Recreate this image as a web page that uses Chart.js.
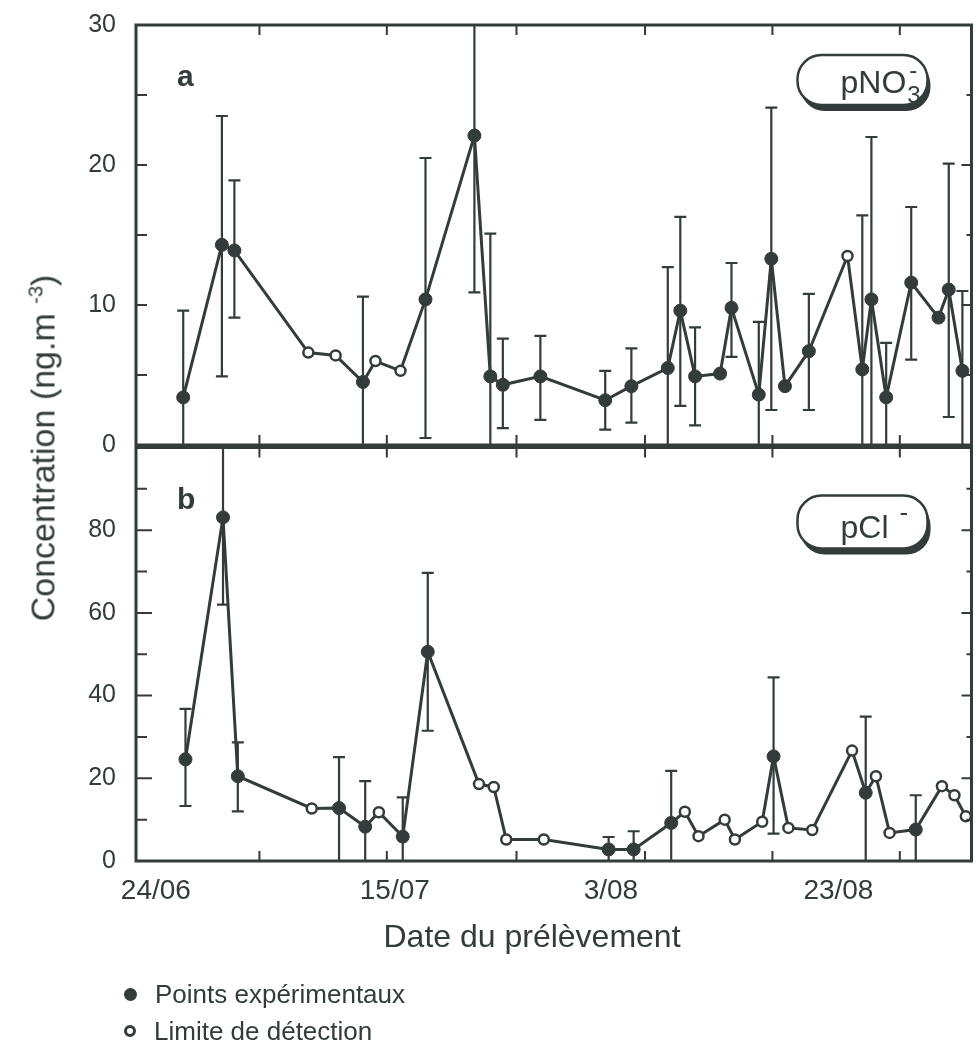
<!DOCTYPE html>
<html>
<head>
<meta charset="utf-8">
<script src="https://cdn.jsdelivr.net/npm/chart.js@4.4.1/dist/chart.umd.min.js"></script>
<style>
  body { margin: 0; background: #fff; }
  #page {
    position: relative; width: 979px; height: 1063px; overflow: hidden;
    font-family: "Liberation Sans", Arial, Helvetica, sans-serif; color: #333b3b;
  }
  #wrapA { position: absolute; left: 0; top: 0; }
  #wrapB { position: absolute; left: 0; top: 440px; }
  .ytitle {
    position: absolute; left: 43px; top: 448px; white-space: nowrap; font-size: 34px;
    transform: translate(-50%, -50%) rotate(-90deg);
  }
  .ytitle sup { font-size: 20px; }
  .xtitle {
    position: absolute; left: 532px; top: 936px; white-space: nowrap; font-size: 32px;
    transform: translate(-50%, -50%);
  }
  .legend-item {
    position: absolute; left: 124px; height: 30px; line-height: 30px;
    font-size: 26px; white-space: nowrap; transform: translateY(-50%);
  }
  .dot {
    display: inline-block; box-sizing: border-box; width: 13px; height: 13px;
    border-radius: 50%; margin-right: 18px; vertical-align: middle; position: relative; top: -2px;
  }
  .dot.filled { background: #333b3b; }
  .dot.open { border: 3px solid #333b3b; background: #fff; width: 12px; height: 12px; }
</style>
</head>
<body>
<div id="page">
  <div id="wrapA"><canvas id="chartA" width="979" height="470"></canvas></div>
  <div id="wrapB"><canvas id="chartB" width="979" height="623"></canvas></div>
  <div class="ytitle">Concentration (ng.m <sup>-3</sup>)</div>
  <div class="xtitle">Date du prélèvement</div>
  <div class="legend-item" style="top: 994px;"><span class="dot filled"></span>Points expérimentaux</div>
  <div class="legend-item" style="top: 1031px;"><span class="dot open"></span>Limite de détection</div>
</div>

<script>
const DARK = '#333b3b';

// ========================================
// DATA (x = days after 24/06)
// ========================================
const dateLabels = ['24/06', '15/07', '3/08', '23/08'];
const dateLabelDays = [0, 21, 40, 60];
const dateTickDays = [9.1, 20.3, 31.7, 43.0, 54.2, 65.4];
const xMin = -1.75;
const xMax = 71.7;

// a : pNO3-
const nitrateDays = [2.4, 5.8, 6.9, 13.4, 15.8, 18.2, 19.3, 21.5, 23.7, 28.0, 29.4, 30.5, 33.8, 39.5, 41.8, 45.0,
  46.1, 47.4, 49.6, 50.6, 53.0, 54.1, 55.3, 57.4, 60.8, 62.1, 62.9, 64.2, 66.4, 68.8, 69.7, 70.9];
const nitrateValues = [3.4, 14.3, 13.9, 6.6, 6.4, 4.5, 6.0, 5.3, 10.4, 22.1, 4.9, 4.3, 4.9, 3.2, 4.2, 5.5,
  9.6, 4.9, 5.1, 9.8, 3.6, 13.3, 4.2, 6.7, 13.5, 5.4, 10.4, 3.4, 11.6, 9.1, 11.1, 5.3];
const nitrateHigh = [9.6, 23.5, 18.9, null, null, 10.6, null, null, 20.5, 32, 15.1, 7.6, 7.8, 5.3, 6.9, 12.7,
  16.3, 8.4, null, 13.0, 8.8, 24.1, null, 10.8, null, 16.4, 22.0, 7.3, 17.0, null, 20.1, 11.0];
const nitrateLow = [0, 4.9, 9.1, null, null, 0, null, null, 0.5, 10.9, 0, 1.2, 1.8, 1.1, 1.6, 0,
  2.8, 1.4, null, 6.3, 0, 2.5, null, 2.5, null, 0, 0, 0, 6.1, null, 2.0, 0];
const nitrateAtLimit = [false, false, false, true, true, false, true, true, false, false, false, false, false, false, false, false,
  false, false, false, false, false, false, false, false, true, false, false, false, false, false, false, false];
const nitrateTicks = [0, 10, 20, 30];

// b : pCl-
const chlorideDays = [2.6, 5.9, 7.2, 13.7, 16.1, 18.4, 19.6, 21.7, 23.9, 28.4, 29.7, 30.8, 34.1, 39.8, 42.0, 45.3,
  46.5, 47.7, 50.0, 50.9, 53.3, 54.3, 55.6, 57.7, 61.2, 62.4, 63.3, 64.5, 66.8, 69.1, 70.2, 71.2];
const chlorideValues = [24.6, 83.1, 20.5, 12.7, 12.8, 8.3, 11.8, 5.9, 50.6, 18.6, 17.9, 5.2, 5.2, 2.8, 2.8, 9.2,
  11.9, 6.0, 10.0, 5.2, 9.5, 25.3, 8.0, 7.5, 26.7, 16.5, 20.5, 6.8, 7.6, 18.1, 15.9, 10.8];
const chlorideHigh = [36.8, 105, 28.7, null, 25.1, 19.3, null, 15.4, 69.7, null, null, null, null, 5.8, 7.2, 21.8,
  null, null, null, null, null, 44.4, null, null, null, 34.9, null, null, 15.9, null, null, null];
const chlorideLow = [13.3, 62.0, 12.0, null, 0, 0, null, 0, 31.5, null, null, null, null, 0, 0, 0,
  null, null, null, null, null, 6.6, null, null, null, 0, null, null, 0, null, null, null];
const chlorideAtLimit = [false, false, false, true, false, false, true, false, false, true, true, true, true, false, false, false,
  true, true, true, true, true, false, true, true, true, false, true, true, false, true, true, true];
const chlorideTicks = [0, 20, 40, 60, 80];

// ========================================
// HELPERS
// ========================================
function pill(ctx, x, y, w, h, r) {
  ctx.beginPath();
  ctx.moveTo(x + r, y);
  ctx.lineTo(x + w - r, y);
  ctx.arcTo(x + w, y, x + w, y + r, r);
  ctx.lineTo(x + w, y + h - r);
  ctx.arcTo(x + w, y + h, x + w - r, y + h, r);
  ctx.lineTo(x + r, y + h);
  ctx.arcTo(x, y + h, x, y + h - r, r);
  ctx.lineTo(x, y + r);
  ctx.arcTo(x, y, x + r, y, r);
  ctx.closePath();
}

function toPoints(days, values) {
  return days.map((d, i) => ({ x: d, y: values[i] }));
}

// error bars, frame, ticks and labels for one panel
function panelPlugin(panel) {
  return {
    id: 'panel' + panel.letter,
    beforeDatasetsDraw(chart) {
      const { ctx, chartArea: a, scales: { x, y } } = chart;
      const ds = chart.data.datasets[0];
      ctx.save();
      ctx.beginPath();
      ctx.rect(a.left, a.top, a.right - a.left, a.bottom - a.top);
      ctx.clip();
      ctx.strokeStyle = DARK;
      ctx.lineWidth = 2.2;
      ds.errHigh.forEach((hi, i) => {
        if (hi === null) return;
        const px = x.getPixelForValue(ds.data[i].x);
        const top = y.getPixelForValue(hi);
        const bot = y.getPixelForValue(ds.errLow[i]);
        ctx.beginPath();
        ctx.moveTo(px, top); ctx.lineTo(px, bot);
        ctx.moveTo(px - 6, top); ctx.lineTo(px + 6, top);
        ctx.moveTo(px - 6, bot); ctx.lineTo(px + 6, bot);
        ctx.stroke();
      });
      ctx.restore();
    },
    afterDraw(chart) {
      const { ctx, chartArea: a, scales: { x, y } } = chart;
      ctx.save();
      ctx.strokeStyle = DARK;
      ctx.fillStyle = DARK;

      // frame
      ctx.lineWidth = 3;
      ctx.strokeRect(a.left, a.top, a.right - a.left, a.bottom - a.top);

      // x ticks, pointing inward on top and bottom
      ctx.lineWidth = 2;
      dateTickDays.forEach(d => {
        const px = x.getPixelForValue(d);
        ctx.beginPath();
        ctx.moveTo(px, a.top); ctx.lineTo(px, a.top + 10);
        ctx.moveTo(px, a.bottom); ctx.lineTo(px, a.bottom - 10);
        ctx.stroke();
      });

      // y ticks, pointing inward on left and right
      for (let v = panel.minorStep; v < panel.max; v += panel.minorStep) {
        const py = y.getPixelForValue(v);
        const major = v % panel.majorStep === 0;
        const leftLen = major ? panel.majorLen : panel.minorLen;
        const rightLen = major ? 10 : 5;
        ctx.beginPath();
        ctx.moveTo(a.left, py); ctx.lineTo(a.left + leftLen, py);
        ctx.moveTo(a.right, py); ctx.lineTo(a.right - rightLen, py);
        ctx.stroke();
      }

      // y tick labels
      ctx.font = '25px "Liberation Sans", Arial, sans-serif';
      ctx.textAlign = 'right';
      ctx.textBaseline = 'middle';
      panel.ticks.forEach(v => {
        ctx.fillText(String(v), a.left - 20, y.getPixelForValue(v));
      });

      // x tick labels under the lower panel
      if (panel.showDates) {
        ctx.font = '28px "Liberation Sans", Arial, sans-serif';
        ctx.textAlign = 'center';
        dateLabels.forEach((label, i) => {
          ctx.fillText(label, x.getPixelForValue(dateLabelDays[i]), a.bottom + 30);
        });
      }

      // panel letter
      ctx.font = 'bold 30px "Liberation Sans", Arial, sans-serif';
      ctx.textAlign = 'left';
      ctx.textBaseline = 'alphabetic';
      ctx.fillText(panel.letter, a.left + 41, a.top + panel.letterDy);

      // species box with shadow
      const bx = a.right - 174;
      const by = a.top + panel.boxDy;
      const bw = 130;
      const bh = panel.boxH;
      pill(ctx, bx + 3, by + 6, bw, bh, 24);
      ctx.fill();
      pill(ctx, bx, by, bw, bh, 24);
      ctx.fillStyle = '#fff';
      ctx.fill();
      ctx.lineWidth = 2.5;
      ctx.stroke();
      ctx.fillStyle = DARK;
      ctx.font = '32px "Liberation Sans", Arial, sans-serif';
      const tx = bx + 43;
      const ty = by + panel.textDy;
      ctx.fillText(panel.species, tx, ty);
      const w = ctx.measureText(panel.species).width;
      if (panel.sub) {
        ctx.font = '24px "Liberation Sans", Arial, sans-serif';
        ctx.fillText(panel.sub, tx + w + 1, ty + 10);
        ctx.fillText('-', tx + w + 3, ty - 15);
      } else {
        ctx.font = '26px "Liberation Sans", Arial, sans-serif';
        ctx.fillText('-', tx + w + 11, ty - 17);
      }
      ctx.restore();
    }
  };
}

function makePanel(canvasId, days, values, high, low, atLimit, panel, padding) {
  const canvas = document.getElementById(canvasId);
  return new Chart(canvas, {
    type: 'line',
    data: {
      datasets: [{
        data: toPoints(days, values),
        errHigh: high,
        errLow: low,
        borderColor: DARK,
        borderWidth: 3,
        tension: 0,
        pointRadius: atLimit.map(open => open ? 5 : 6.5),
        pointBorderWidth: atLimit.map(open => open ? 2.5 : 1),
        pointBackgroundColor: atLimit.map(open => open ? '#fff' : DARK),
        pointBorderColor: DARK
      }]
    },
    options: {
      responsive: false,
      devicePixelRatio: 1,
      animation: false,
      events: [],
      layout: { padding },
      plugins: {
        legend: { display: false },
        tooltip: { enabled: false }
      },
      scales: {
        x: { type: 'linear', min: xMin, max: xMax, display: false },
        y: { min: 0, max: panel.max, display: false }
      }
    },
    plugins: [panelPlugin(panel)]
  });
}

// ========================================
// BUILD BOTH PANELS
// ========================================
makePanel('chartA', nitrateDays, nitrateValues, nitrateHigh, nitrateLow, nitrateAtLimit, {
  letter: 'a', max: 30, ticks: nitrateTicks, minorStep: 5, majorStep: 10, majorLen: 11, minorLen: 11,
  letterDy: 61, boxDy: 30, boxH: 50, textDy: 38, species: 'pNO', sub: '3', showDates: false
}, { left: 136, right: 2, top: 25, bottom: 25 });

makePanel('chartB', chlorideDays, chlorideValues, chlorideHigh, chlorideLow, chlorideAtLimit, {
  letter: 'b', max: 100, ticks: chlorideTicks, minorStep: 10, majorStep: 20, majorLen: 16, minorLen: 11,
  letterDy: 61, boxDy: 48, boxH: 53, textDy: 42, species: 'pCl', sub: null, showDates: true
}, { left: 136, right: 2, top: 5, bottom: 202 });
</script>
</body>
</html>
